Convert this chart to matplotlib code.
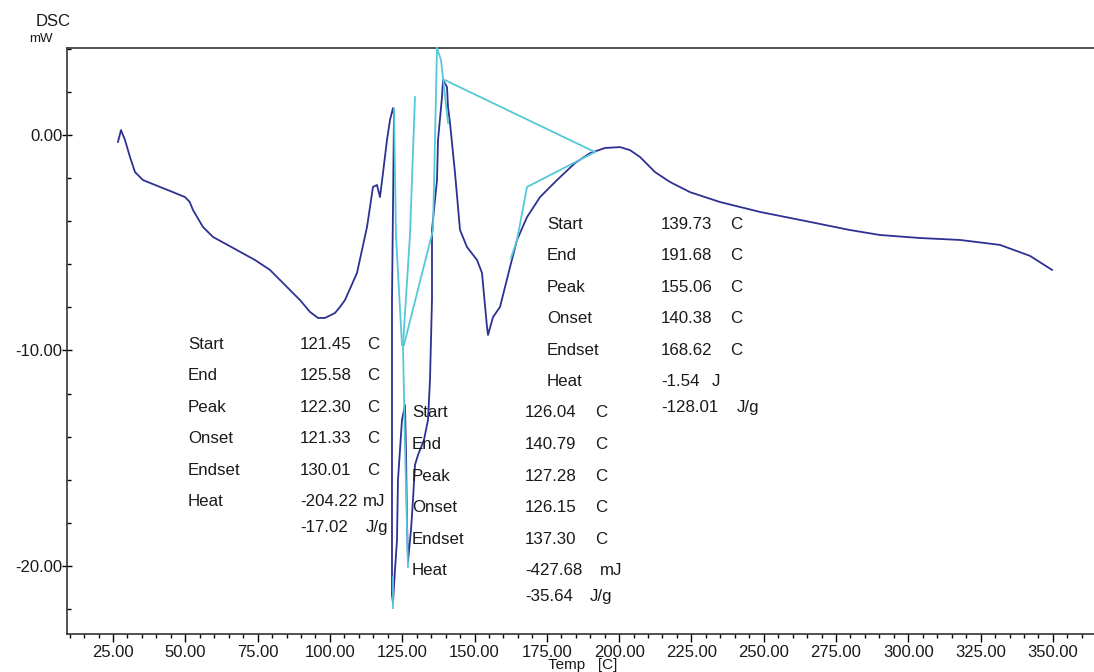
import matplotlib
matplotlib.use("Agg")
import matplotlib.pyplot as plt
from matplotlib.ticker import MultipleLocator, FormatStrFormatter

plt.rcParams['font.family'] = ['Liberation Sans', 'DejaVu Sans']

# DSC trace (temperature in C, heat flow in mW)
temp = [26.73, 27.77, 29.15, 30.88, 32.61, 35.37, 41.25, 45.75, 49.90, 51.50, 52.67,
        56.12, 59.58, 66.50, 74.10, 79.28, 84.46, 89.66, 93.12, 95.88, 98.30,
        101.76, 103.49, 105.22, 109.37, 112.83, 114.90, 116.29, 117.32, 118.36, 119.74,
        120.78, 121.81, 122.16, 121.47, 121.47, 121.81, 122.50, 123.20, 123.54, 124.23,
        124.92, 125.96, 126.31, 126.65, 127.00, 128.04, 128.73, 129.42, 130.46, 132.53,
        133.92, 134.61, 135.30, 135.30, 137.03, 137.38, 138.76, 139.11, 140.49, 140.84,
        141.53, 143.26, 144.99, 147.41, 150.87, 152.59, 154.32, 154.67, 156.40, 158.82,
        162.28, 164.70, 168.15, 172.65, 178.53, 184.75, 189.94, 195.13, 200.32, 203.77,
        207.23, 212.42, 217.60, 224.52, 234.90, 248.74, 262.57, 279.86, 290.23, 304.06,
        317.89, 331.71, 342.09, 349.69]
dsc = [-0.32, 0.23, -0.23, -1.02, -1.72, -2.09, -2.41, -2.65, -2.88, -3.10, -3.48,
       -4.27, -4.73, -5.24, -5.80, -6.26, -6.96, -7.66, -8.21, -8.49, -8.49,
       -8.26, -7.98, -7.66, -6.40, -4.27, -2.41, -2.32, -2.88, -1.76, -0.23,
       0.70, 1.25, 0.93, -7.66, -21.35, -21.72, -20.19, -18.79, -16.01, -14.62,
       -13.23, -12.53, -14.62, -17.87, -19.81, -18.33, -16.94, -15.31, -14.85, -14.15,
       -13.23, -11.37, -7.66, -4.41, -2.09, -0.23, 1.76, 2.55, 2.23, 1.30,
       0.56, -1.76, -4.41, -5.20, -5.80, -6.40, -8.91, -9.28, -8.45, -7.98,
       -6.13, -4.87, -3.81, -2.88, -2.09, -1.30, -0.84, -0.60, -0.56, -0.70,
       -1.02, -1.72, -2.18, -2.65, -3.11, -3.57, -3.94, -4.41, -4.64, -4.78,
       -4.87, -5.10, -5.61, -6.26]

# analysis lines drawn by the software (baselines / peak markers)
cyan_lines = [
    ([122.16, 122.85, 124.92], [1.25, -4.64, -9.74]),
    ([129.42, 127.69, 125.27], [1.76, -4.64, -9.74]),
    ([137.03, 135.65, 125.62], [4.04, -4.41, -9.74]),
    ([125.27, 125.96, 127.00], [-9.74, -14.39, -20.05]),
    ([137.03, 138.42, 140.84], [4.04, 3.48, 0.56]),
    ([139.80, 191.66], [2.55, -0.79]),
    ([191.66, 168.15, 164.70, 162.63], [-0.79, -2.41, -4.87, -5.71]),
    ([121.81, 121.81], [-20.5, -21.95]),
]

# result tables
labels = ["Start", "End", "Peak", "Onset", "Endset", "Heat"]
peak1_vals = ["121.45", "125.58", "122.30", "121.33", "130.01", "-204.22", "-17.02"]
peak1_units = ["C", "C", "C", "C", "C", "mJ", "J/g"]
peak2_vals = ["126.04", "140.79", "127.28", "126.15", "137.30", "-427.68", "-35.64"]
peak2_units = ["C", "C", "C", "C", "C", "mJ", "J/g"]
peak3_vals = ["139.73", "191.68", "155.06", "140.38", "168.62", "-1.54", "-128.01"]
peak3_units = ["C", "C", "C", "C", "C", "J", "J/g"]

navy = "#2e3192"
cyan = "#55c8d8"
txt = "#1a1a1a"
fs = 12.2

fig = plt.figure(figsize=(10.94, 6.72), dpi=100)
ax = fig.add_axes([67 / 1094, 38 / 672, 1 - 67 / 1094, 586 / 672])

ax.plot(temp, dsc, color=navy, lw=1.3, zorder=2)
for xs, ys in cyan_lines:
    ax.plot(xs, ys, color=cyan, lw=1.3, zorder=3, clip_on=False)

ax.set_xlim(9.1, 364.2)
ax.set_ylim(-23.16, 4.04)

ax.spines['right'].set_visible(False)
for s in ['left', 'bottom', 'top']:
    ax.spines[s].set_linewidth(1.2)
    ax.spines[s].set_color("#333333")

ax.xaxis.set_major_locator(MultipleLocator(25))
ax.xaxis.set_minor_locator(MultipleLocator(5))
ax.yaxis.set_major_locator(MultipleLocator(10))
ax.yaxis.set_minor_locator(MultipleLocator(2))
ax.xaxis.set_major_formatter(FormatStrFormatter('%.2f'))
ax.yaxis.set_major_formatter(FormatStrFormatter('%.2f'))
ax.tick_params(axis='x', which='major', direction='out', length=6, width=1, labelsize=12,
               labelcolor=txt, pad=2)
ax.tick_params(axis='x', which='minor', direction='out', length=3, width=1)
ax.tick_params(axis='y', which='major', direction='inout', length=7, width=1, labelsize=12,
               labelcolor=txt, pad=0)
ax.tick_params(axis='y', which='minor', direction='in', length=3, width=1)
ax.tick_params(top=False, right=False)


def table(lx, vx, ux, y0, dy, vals, units):
    for i, lab in enumerate(labels):
        ax.text(lx, y0 - i * dy, lab, fontsize=fs, color=txt, va='center', ha='left')
    for i, (v, u) in enumerate(zip(vals, units)):
        y = y0 - i * dy if i < 6 else y0 - 5 * dy - 1.2
        ax.text(vx, y, v, fontsize=fs, color=txt, va='center', ha='left')
        ax.text(ux[i], y, u, fontsize=fs, color=txt, va='center', ha='left')


table(50.9, 89.7, [112.8] * 5 + [111.3, 112.3], -9.70, 1.466, peak1_vals, peak1_units)
table(128.4, 167.5, [191.7] * 5 + [193.4, 190.0], -12.90, 1.466, peak2_vals, peak2_units)
table(175.1, 214.5, [238.4] * 5 + [232.1, 240.8], -4.13, 1.466, peak3_vals, peak3_units)

fig.text(53 / 1094, 1 - 21 / 672, "DSC", fontsize=12, color=txt, ha='center', va='center')
fig.text(41 / 1094, 1 - 39 / 672, "mW", fontsize=9.5, color=txt, ha='center', va='center')
fig.text(583 / 1094, 1 - 658 / 672, "Temp   [C]", fontsize=11, color=txt, ha='center', va='top')

fig.savefig("out.png", dpi=100)
